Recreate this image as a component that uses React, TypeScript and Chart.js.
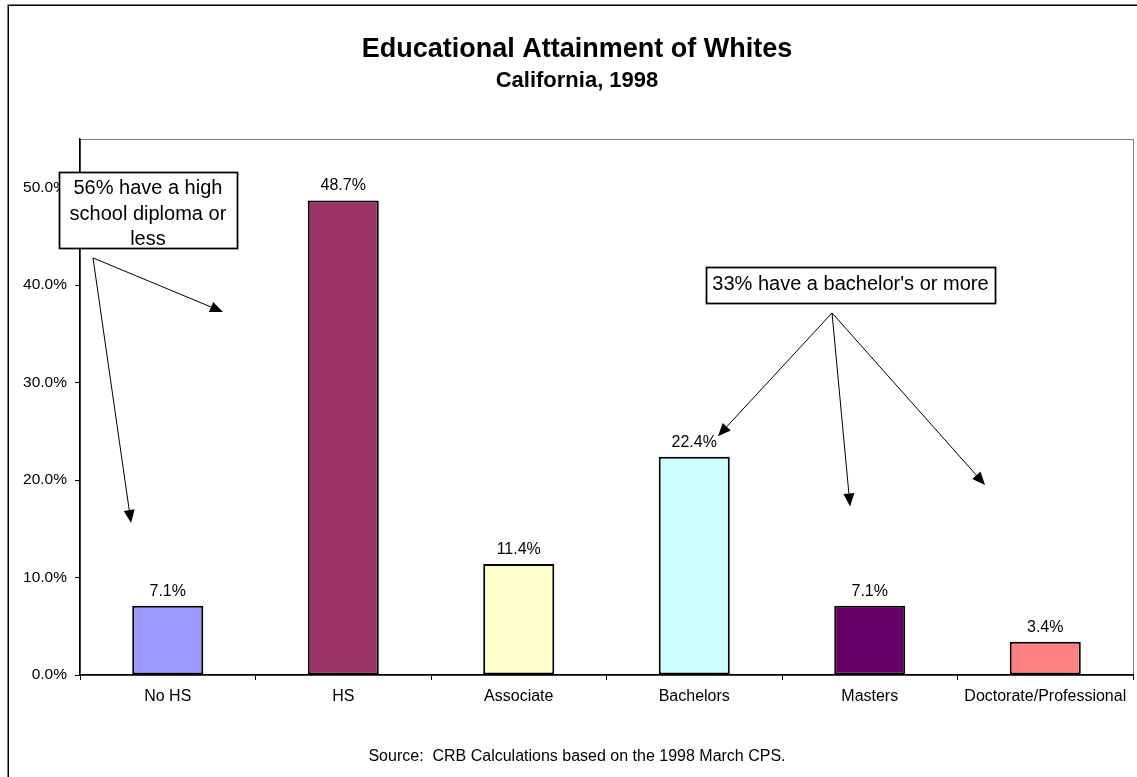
import { useEffect, useRef } from "react";
import { Chart, registerables } from "chart.js";

Chart.register(...registerables);

// Share of white adults by highest level of education (percent)
const categories = ["No HS", "HS", "Associate", "Bachelors", "Masters", "Doctorate/Professional"];
const shares = [7.1, 48.7, 11.4, 22.4, 7.1, 3.4];
const barColors = ["#9999FF", "#993366", "#FFFFCC", "#CCFFFF", "#660066", "#FF8080"];
const yTickValues = [0, 10, 20, 30, 40, 50];
const yMax = 55;

const titleText = "Educational Attainment of Whites";
const subtitleText = "California, 1998";
const sourceText = "Source:  CRB Calculations based on the 1998 March CPS.";

// Call-out notes, anchored in data space (category index, percent)
const noteLow = {
  lines: ["56% have a high", "school diploma or", "less"],
  center: { i: -0.113, v: 47.7 },
  w: 178,
  h: 76,
  firstBaseline: -16,
  origin: { i: -0.426, v: 42.8 },
  tips: [
    { i: 0.315, v: 37.25 },
    { i: -0.209, v: 15.6 },
  ],
};
const noteHigh = {
  lines: ["33% have a bachelor's or more"],
  center: { i: 3.89, v: 40.0 },
  w: 289,
  h: 36,
  firstBaseline: 5,
  origin: { i: 3.785, v: 37.15 },
  tips: [
    { i: 3.135, v: 24.5 },
    { i: 3.888, v: 17.3 },
    { i: 4.657, v: 19.5 },
  ],
};

const FONT = "'Liberation Sans', Arial, Helvetica, sans-serif";

function drawArrow(ctx: CanvasRenderingContext2D, x0: number, y0: number, x1: number, y1: number) {
  const ang = Math.atan2(y1 - y0, x1 - x0);
  const len = 13;
  const hw = 5.5;
  const bx = x1 - len * Math.cos(ang);
  const by = y1 - len * Math.sin(ang);
  ctx.beginPath();
  ctx.moveTo(x0, y0);
  ctx.lineTo(bx, by);
  ctx.stroke();
  ctx.beginPath();
  ctx.moveTo(x1, y1);
  ctx.lineTo(bx - hw * Math.sin(ang), by + hw * Math.cos(ang));
  ctx.lineTo(bx + hw * Math.sin(ang), by - hw * Math.cos(ang));
  ctx.closePath();
  ctx.fill();
}

const decorations = {
  id: "decorations",
  beforeDraw(chart: any) {
    const { ctx, chartArea } = chart;
    ctx.save();
    ctx.fillStyle = "#ffffff";
    ctx.fillRect(0, 0, chart.width, chart.height);
    // outer chart frame
    ctx.strokeStyle = "#000000";
    ctx.lineWidth = 1.5;
    ctx.beginPath();
    ctx.moveTo(8.25, chart.height + 2);
    ctx.lineTo(8.25, 5.25);
    ctx.lineTo(chart.width + 2, 5.25);
    ctx.stroke();
    // plot area frame
    ctx.strokeStyle = "#808080";
    ctx.lineWidth = 1;
    ctx.strokeRect(
      Math.round(chartArea.left) + 0.5,
      Math.round(chartArea.top) + 0.5,
      Math.round(chartArea.right - chartArea.left),
      Math.round(chartArea.bottom - chartArea.top)
    );
    ctx.restore();
  },
  afterDatasetsDraw(chart: any) {
    const { ctx } = chart;
    const meta = chart.getDatasetMeta(0);
    ctx.save();
    ctx.fillStyle = "#000000";
    ctx.font = `16px ${FONT}`;
    ctx.textAlign = "center";
    ctx.textBaseline = "alphabetic";
    meta.data.forEach((bar: any, idx: number) => {
      ctx.fillText(`${shares[idx].toFixed(1)}%`, bar.x, bar.y - 10);
    });
    ctx.restore();
  },
  afterDraw(chart: any) {
    const { ctx } = chart;
    const xs = chart.scales.x;
    const ys = chart.scales.y;
    const px = (p: { i: number; v: number }) => [xs.getPixelForValue(p.i), ys.getPixelForValue(p.v)];
    ctx.save();
    ctx.fillStyle = "#000000";
    ctx.textAlign = "center";
    ctx.textBaseline = "alphabetic";
    const cx = 577;
    ctx.font = `bold 27px ${FONT}`;
    ctx.fillText(titleText, cx, 57);
    ctx.font = `bold 22px ${FONT}`;
    ctx.fillText(subtitleText, cx, 87);
    ctx.font = `16px ${FONT}`;
    ctx.fillText(sourceText, cx, 761);

    ctx.strokeStyle = "#000000";
    ctx.lineWidth = 1;
    [noteLow, noteHigh].forEach((note) => {
      const [ox, oy] = px(note.origin);
      note.tips.forEach((t) => {
        const [tx, ty] = px(t);
        drawArrow(ctx, ox, oy, tx, ty);
      });
    });

    [noteLow, noteHigh].forEach((note) => {
      const [bx, by] = px(note.center);
      const left = Math.round(bx - note.w / 2) + 0.5;
      const top = Math.round(by - note.h / 2) + 0.5;
      ctx.fillStyle = "#ffffff";
      ctx.fillRect(left, top, note.w, note.h);
      ctx.strokeStyle = "#000000";
      ctx.lineWidth = 1.75;
      ctx.strokeRect(left, top, note.w, note.h);
      ctx.fillStyle = "#000000";
      ctx.font = `20px ${FONT}`;
      note.lines.forEach((line, k) => {
        ctx.fillText(line, bx, by + note.firstBaseline + k * 25.5);
      });
    });
    ctx.restore();
  },
};

export default function App() {
  const canvasRef = useRef<HTMLCanvasElement | null>(null);

  useEffect(() => {
    document.body.style.margin = "0";
    const canvas = canvasRef.current;
    if (!canvas) return;
    const chart = new Chart(canvas, {
      type: "bar",
      data: {
        labels: categories,
        datasets: [
          {
            data: shares,
            backgroundColor: barColors,
            borderColor: "#000000",
            borderWidth: 2,
            borderSkipped: false,
            categoryPercentage: 1,
            barPercentage: 0.405,
          },
        ],
      },
      options: {
        responsive: false,
        animation: false,
        devicePixelRatio: 1,
        layout: { padding: { left: 0, right: 4, top: 139, bottom: 0 } },
        plugins: {
          legend: { display: false },
          tooltip: { enabled: false },
          title: { display: false },
        },
        scales: {
          x: {
            offset: true,
            grid: {
              offset: true,
              drawOnChartArea: false,
              drawTicks: true,
              tickLength: 5,
              color: "#000000",
              lineWidth: 1,
            },
            border: { display: true, color: "#000000", width: 1.5 },
            ticks: {
              color: "#000000",
              font: { family: FONT, size: 16 },
              padding: 7,
              maxRotation: 0,
              autoSkip: false,
            },
            afterFit: (scale: any) => {
              scale.height = 102;
            },
          },
          y: {
            min: 0,
            max: yMax,
            afterBuildTicks: (scale: any) => {
              scale.ticks = yTickValues.map((v) => ({ value: v }));
            },
            grid: {
              drawOnChartArea: false,
              drawTicks: true,
              tickLength: 5,
              color: "#000000",
              lineWidth: 1,
            },
            border: { display: true, color: "#000000", width: 1.5 },
            ticks: {
              color: "#000000",
              font: { family: FONT, size: 15.5 },
              padding: 8,
              callback: (v: any) => `${Number(v).toFixed(1)}%`,
            },
            afterFit: (scale: any) => {
              scale.width = 80;
            },
          },
        },
      },
      plugins: [decorations],
    });
    return () => chart.destroy();
  }, []);

  return (
    <div style={{ position: "absolute", left: 0, top: 0, width: 1137, height: 777, overflow: "hidden" }}>
      <canvas ref={canvasRef} width={1137} height={777} style={{ display: "block", width: 1137, height: 777 }} />
    </div>
  );
}
